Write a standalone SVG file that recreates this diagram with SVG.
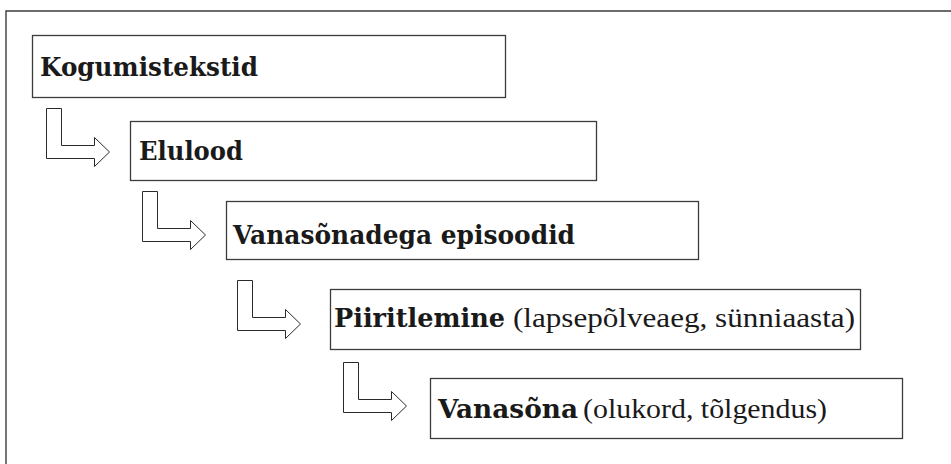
<svg xmlns="http://www.w3.org/2000/svg" xmlns:xlink="http://www.w3.org/1999/xlink" width="951" height="464" viewBox="0 0 951 464">
<style>
.frame{fill:none;stroke:#3c3c3c;stroke-width:1.4}
.box{fill:#fff;stroke:#3c3c3c;stroke-width:1.3}
.arrow{fill:#fff;stroke:#2a2a2a;stroke-width:1}
.t{font-family:"Liberation Serif","DejaVu Serif",serif;font-size:27px;fill:#1a1a1a}
.b{font-family:"DejaVu Serif","Liberation Serif",serif;font-weight:bold;font-size:26.5px}
</style>
<defs>
<path id="larrow" d="M0,0 H15 V37 H48 V29 L63,43.5 L48,58 V50 H0 Z"/>
</defs>
<rect width="951" height="464" fill="#fff"/>
<path class="frame" d="M6,464 V11 H951"/>
<g id="connectors">
<use xlink:href="#larrow" class="arrow" transform="translate(46.5,108.5)"/>
<use xlink:href="#larrow" class="arrow" transform="translate(142.5,191.5)"/>
<use xlink:href="#larrow" class="arrow" transform="translate(237.5,280.5)"/>
<use xlink:href="#larrow" class="arrow" transform="translate(343.5,362.5)"/>
</g>
<g id="node1">
<rect class="box" x="32.5" y="35.5" width="473" height="62"/>
<text class="t b" x="40" y="76" textLength="218" lengthAdjust="spacingAndGlyphs">Kogumistekstid</text>
</g>
<g id="node2">
<rect class="box" x="130.5" y="121.5" width="466" height="59"/>
<text class="t b" x="139" y="160" textLength="104" lengthAdjust="spacingAndGlyphs">Elulood</text>
</g>
<g id="node3">
<rect class="box" x="226.5" y="201.5" width="472" height="58"/>
<text class="t b" x="233" y="244" textLength="342" lengthAdjust="spacingAndGlyphs">Vanasõnadega episoodid</text>
</g>
<g id="node4">
<rect class="box" x="330.5" y="289.5" width="530" height="60"/>
<text class="t b" x="334" y="327" textLength="171" lengthAdjust="spacingAndGlyphs">Piiritlemine</text>
<text class="t" x="513" y="327" textLength="342" lengthAdjust="spacingAndGlyphs">(lapsepõlveaeg, sünniaasta)</text>
</g>
<g id="node5">
<rect class="box" x="430.5" y="378.5" width="472" height="60"/>
<text class="t b" x="438" y="418" textLength="140" lengthAdjust="spacingAndGlyphs">Vanasõna</text>
<text class="t" x="583" y="418" textLength="244" lengthAdjust="spacingAndGlyphs">(olukord, tõlgendus)</text>
</g>
</svg>
